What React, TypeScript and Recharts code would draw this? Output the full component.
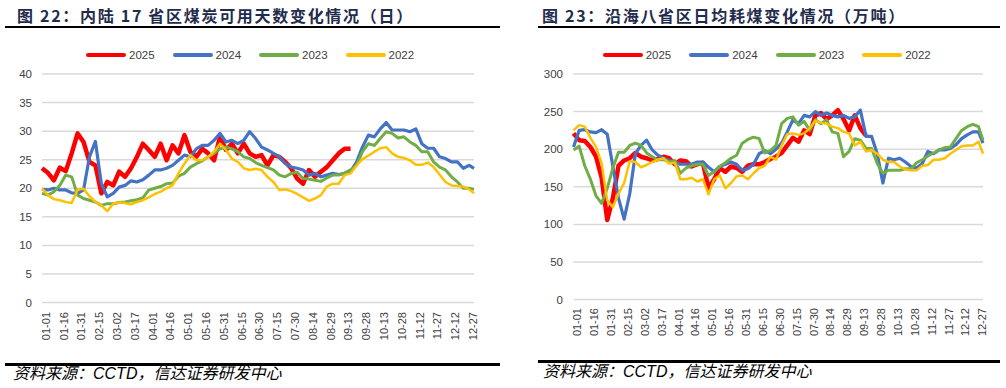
import React from 'react';
import { LineChart, Line, XAxis, YAxis, CartesianGrid, Legend } from 'recharts';

const days = [0, 5, 10, 15, 20, 25, 30, 35, 40, 45, 50, 55, 60, 65, 70, 75, 80, 85, 90, 95, 100, 105, 110, 115, 120, 125, 130, 135, 140, 145, 150, 155, 160, 165, 170, 175, 180, 185, 190, 195, 200, 205, 210, 215, 220, 225, 230, 235, 240, 245, 250, 255, 260, 265, 270, 275, 280, 285, 290, 295, 300, 305, 310, 315, 320, 325, 330, 335, 340, 345, 350, 355, 360, 364];

const tickDays = [0, 15, 30, 45, 60, 75, 90, 105, 120, 135, 150, 165, 180, 195, 210, 225, 240, 255, 270, 285, 300, 315, 330, 345, 360];
const tickLabels = ['01-01', '01-16', '01-31', '02-15', '03-02', '03-17', '04-01', '04-16', '05-01', '05-16', '05-31', '06-15', '06-30', '07-15', '07-30', '08-14', '08-29', '09-13', '09-28', '10-13', '10-28', '11-12', '11-27', '12-12', '12-27'];

const years = ['2025', '2024', '2023', '2022'];
const yearColors = ['#ff0000', '#4472c4', '#70ad47', '#ffc000'];
const yearWidths = [4.5, 3.2, 3, 2.5];

// 图22 内陆17省区煤炭可用天数（日）
const inland2025 = [23.5, 22.7, 21.4, 23.6, 23.0, 26.1, 29.6, 28.1, 24.6, 24.0, 19.1, 21.1, 20.5, 22.9, 22.0, 23.5, 25.5, 27.8, 26.7, 25.5, 27.8, 24.9, 27.5, 26.1, 29.3, 26.4, 25.5, 26.9, 26.1, 24.9, 29.0, 26.7, 27.8, 26.1, 27.8, 26.1, 25.5, 25.8, 24.0, 25.8, 25.5, 24.6, 23.5, 21.7, 20.8, 23.2, 22.0, 22.9, 23.7, 24.9, 26.1, 26.9, 26.9, null, null, null, null, null, null, null, null, null, null, null, null, null, null, null, null, null, null, null, null, null];
const inland2024 = [19.8, 19.7, 20.0, 19.7, 19.7, 19.2, 19.1, 19.7, 25.5, 28.2, 20.8, 18.5, 19.1, 20.2, 20.5, 21.3, 21.1, 21.5, 22.3, 23.2, 23.2, 23.5, 24.0, 24.9, 25.8, 25.5, 26.9, 27.5, 27.5, 28.4, 29.6, 28.1, 28.4, 27.8, 28.4, 29.9, 28.7, 27.2, 26.7, 26.1, 25.5, 24.3, 23.7, 23.5, 23.2, 22.3, 22.6, 22.0, 22.3, 22.6, 22.4, 22.6, 22.9, 24.6, 27.2, 29.3, 29.0, 30.4, 31.5, 30.2, 30.2, 30.2, 29.9, 30.4, 27.8, 27.0, 27.0, 25.5, 25.2, 24.6, 24.6, 23.5, 24.0, 23.5];
const inland2023 = [19.1, 18.8, 19.4, 20.5, 22.3, 22.0, 18.8, 18.2, 17.9, 17.6, 17.0, 17.3, 17.3, 17.5, 17.6, 17.8, 18.0, 18.3, 19.7, 20.0, 20.3, 20.8, 20.9, 22.1, 22.6, 23.7, 24.3, 24.8, 25.5, 26.1, 26.9, 27.2, 26.9, 26.4, 25.5, 25.2, 24.5, 24.0, 23.6, 23.2, 22.3, 22.0, 22.6, 22.8, 21.7, 21.6, 21.4, 21.2, 21.8, 22.3, 22.3, 22.7, 23.2, 24.0, 26.4, 27.8, 27.5, 28.7, 29.9, 29.6, 28.8, 29.0, 28.1, 27.5, 26.4, 26.4, 24.6, 23.7, 23.2, 22.0, 21.1, 20.0, 20.0, 19.8];
const inland2022 = [20.0, 18.8, 18.1, 17.9, 17.6, 17.4, 19.8, 19.9, 18.6, 17.6, 17.0, 16.0, 17.3, 17.5, 17.4, 17.2, 17.6, 17.9, 18.4, 19.0, 19.4, 20.0, 20.5, 22.6, 24.3, 25.8, 24.9, 24.9, 25.5, 26.4, 27.8, 26.7, 25.2, 24.6, 23.5, 23.2, 23.4, 23.2, 22.0, 21.1, 19.7, 19.8, 19.5, 19.0, 18.4, 17.8, 18.2, 18.8, 20.3, 20.8, 20.8, 22.3, 22.6, 24.0, 25.1, 25.7, 26.4, 27.0, 27.2, 26.1, 25.5, 25.3, 24.9, 24.1, 24.1, 24.5, 23.7, 22.4, 21.1, 20.5, 20.4, 20.3, 19.8, 19.1];

// 图23 沿海八省区日均耗煤（万吨）
const coastal2025 = [221, 212, 211, 203, 190, 162, 106, 135, 178, 185, 188, 195, 190, 188, 185, 187, 190, 188, 180, 185, 184, 177, 180, 182, 148, 160, 175, 170, 177, 175, 170, 178, 180, 180, 183, 187, 190, 195, 205, 215, 210, 225, 220, 245, 248, 240, 245, 252, 240, 225, 245, 228, 218, null, null, null, null, null, null, null, null, null, null, null, null, null, null, null, null, null, null, null, null, null];
const coastal2024 = [203, 225, 226, 223, 222, 226, 220, 177, 135, 107, 141, 194, 205, 212, 199, 192, 188, 185, 183, 180, 180, 180, 183, 183, 176, 170, 177, 180, 183, 180, 172, 174, 180, 194, 198, 194, 200, 208, 223, 239, 234, 245, 243, 250, 245, 248, 245, 243, 245, 241, 243, 252, 217, 217, 194, 155, 188, 186, 188, 183, 177, 175, 181, 197, 194, 199, 199, 201, 206, 214, 219, 223, 223, 208];
const coastal2023 = [199, 204, 178, 160, 138, 128, 148, 175, 196, 196, 205, 208, 205, 195, 190, 186, 186, 183, 185, 168, 175, 178, 180, 180, 165, 170, 177, 182, 188, 192, 208, 213, 216, 214, 195, 198, 205, 234, 241, 243, 232, 237, 225, 239, 234, 239, 223, 221, 190, 197, 214, 212, 201, 201, 181, 168, 172, 172, 172, 174, 174, 182, 186, 191, 195, 199, 202, 203, 214, 225, 230, 233, 230, 212];
const coastal2022 = [225, 232, 230, 215, 203, 181, 132, 123, 141, 155, 184, 183, 176, 179, 183, 186, 188, 181, 182, 160, 160, 162, 157, 160, 140, 160, 165, 148, 155, 164, 165, 160, 168, 175, 178, 190, 186, 205, 220, 221, 219, 221, 228, 238, 235, 234, 230, 228, 223, 221, 205, 210, 197, 199, 194, 186, 183, 183, 177, 173, 172, 172, 178, 179, 186, 186, 188, 194, 199, 204, 205, 205, 210, 194];

const inlandTicks = [0, 5, 10, 15, 20, 25, 30, 35, 40];
const coastalTicks = [0, 50, 100, 150, 200, 250, 300];

const buildRows = (series: (number | null)[][]) =>
  days.map((d, i) => {
    const row: Record<string, number | null> = { day: d };
    years.forEach((y, k) => {
      row['y' + y] = series[k][i];
    });
    return row;
  });

const inlandRows = buildRows([inland2025, inland2024, inland2023, inland2022]);
const coastalRows = buildRows([coastal2025, coastal2024, coastal2023, coastal2022]);

const FONT = '"Liberation Sans", Arial, sans-serif';
const CJK = '"Noto Sans CJK SC", "Noto Sans", sans-serif';

const makeLegend = (padLeft: number) => (props: any) => {
  const payload = [...(props.payload || [])].sort(
    (a: any, b: any) => years.indexOf(String(a.value)) - years.indexOf(String(b.value))
  );
  return (
    <div style={{ display: 'flex', alignItems: 'center', height: 16, paddingLeft: padLeft }}>
      {payload.map((p: any) => (
        <div key={p.value} style={{ display: 'flex', alignItems: 'center', width: 86.5 }}>
          <div style={{ width: 40, height: 4, borderRadius: 2, background: p.color }} />
          <span style={{ marginLeft: 3, fontSize: 11.5, fontFamily: FONT, color: '#404040', lineHeight: '16px' }}>
            {p.value}
          </span>
        </div>
      ))}
    </div>
  );
};

interface PanelProps {
  rows: Record<string, number | null>[];
  width: number;
  height: number;
  margin: { top: number; right: number; bottom: number; left: number };
  yWidth: number;
  yDomain: [number, number];
  yTicks: number[];
  yTickMargin: number;
  xTickMargin: number;
  legendPad: number;
}

function Panel(p: PanelProps) {
  return (
    <LineChart width={p.width} height={p.height} data={p.rows} margin={p.margin}>
      <CartesianGrid horizontal vertical={false} stroke="#d9d9d9" strokeWidth={1.5} />
      <XAxis
        dataKey="day"
        type="number"
        domain={[0, 364]}
        ticks={tickDays}
        interval={0}
        tickFormatter={(v: number) => tickLabels[Math.round(v / 15)]}
        angle={-90}
        textAnchor="end"
        axisLine={false}
        tickLine={false}
        height={40}
        tickMargin={p.xTickMargin}
        tick={{ fontSize: 11, fill: '#404040', fontFamily: FONT }}
      />
      <YAxis
        type="number"
        domain={p.yDomain}
        ticks={p.yTicks}
        interval={0}
        axisLine={false}
        tickLine={false}
        width={p.yWidth}
        tickMargin={p.yTickMargin}
        tick={{ fontSize: 11.5, fill: '#404040', fontFamily: FONT }}
      />
      <Legend
        verticalAlign="middle"
        align="center"
        layout="horizontal"
        content={makeLegend(p.legendPad)}
        wrapperStyle={{ top: 46.5, left: 0, width: p.width }}
      />
      {years.map((y, k) => (
        <Line
          key={y}
          type="linear"
          dataKey={'y' + y}
          name={y}
          stroke={yearColors[k]}
          strokeWidth={yearWidths[k]}
          dot={false}
          activeDot={false}
          connectNulls={false}
          strokeLinejoin="round"
          isAnimationActive={false}
        />
      ))}
    </LineChart>
  );
}

const titleStyle: React.CSSProperties = {
  position: 'absolute',
  top: 3,
  fontFamily: CJK,
  fontSize: 16,
  fontWeight: 700,
  letterSpacing: '1.7px',
  color: '#1f2c4c',
  lineHeight: '24px',
  whiteSpace: 'nowrap',
};

const sourceStyle: React.CSSProperties = {
  position: 'absolute',
  fontFamily: '"Liberation Sans", "Noto Sans CJK SC", sans-serif',
  fontStyle: 'italic',
  fontSize: 16,
  color: '#000',
  lineHeight: '20px',
  whiteSpace: 'nowrap',
};

export default function App() {
  return (
    <div style={{ position: 'absolute', left: 0, top: 0, width: 1006, height: 388, background: '#fff', overflow: 'hidden' }}>
      <div style={{ ...titleStyle, left: 17 }}>图 22：内陆 17 省区煤炭可用天数变化情况（日）</div>
      <div style={{ position: 'absolute', left: 5, top: 26, width: 495, height: 2, background: '#000' }} />
      <div style={{ ...titleStyle, left: 542 }}>图 23：沿海八省区日均耗煤变化情况（万吨）</div>
      <div style={{ position: 'absolute', left: 538, top: 26, width: 462, height: 2, background: '#000' }} />

      <div style={{ position: 'absolute', left: 0, top: 0 }}>
        <Panel
          rows={inlandRows}
          width={500}
          height={342.5}
          margin={{ top: 74, right: 26, bottom: 0, left: 0 }}
          yWidth={42}
          yDomain={[0, 40]}
          yTicks={inlandTicks}
          yTickMargin={4}
          xTickMargin={3.5}
          legendPad={86}
        />
      </div>
      <div style={{ position: 'absolute', left: 510, top: 0 }}>
        <Panel
          rows={coastalRows}
          width={496}
          height={339.6}
          margin={{ top: 74, right: 23, bottom: 0, left: 0 }}
          yWidth={63.5}
          yDomain={[0, 300]}
          yTicks={coastalTicks}
          yTickMargin={4.5}
          xTickMargin={2.4}
          legendPad={92.7}
        />
      </div>

      <div style={{ position: 'absolute', left: 5, top: 363, width: 495, height: 2.5, background: '#000' }} />
      <div style={{ ...sourceStyle, left: 13, top: 364 }}>资料来源：CCTD，信达证券研发中心</div>
      <div style={{ position: 'absolute', left: 538, top: 360, width: 462, height: 2.5, background: '#000' }} />
      <div style={{ ...sourceStyle, left: 543, top: 362 }}>资料来源：CCTD，信达证券研发中心</div>
    </div>
  );
}
